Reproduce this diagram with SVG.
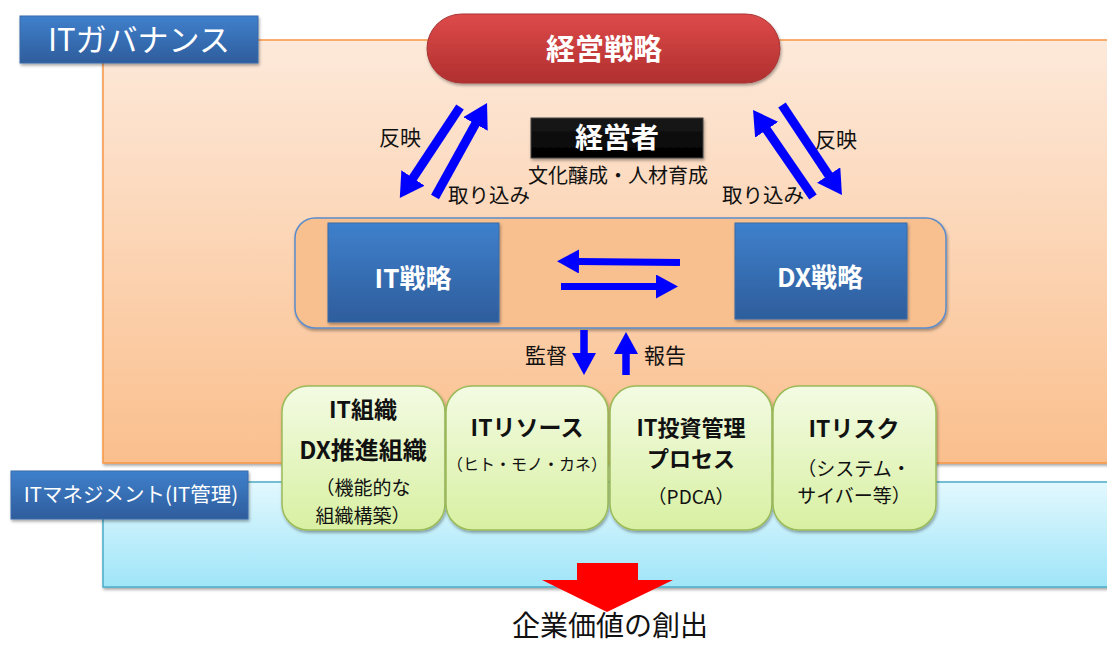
<svg xmlns="http://www.w3.org/2000/svg" width="1107" height="646" viewBox="0 0 1107 646">
  <style>
    text { font-family: "Noto Sans CJK JP", "Noto Sans", sans-serif; }
    .w { fill: #ffffff; }
    .k { fill: #111111; }
    .b { font-weight: bold; }
    .mid { text-anchor: middle; }
    .green { fill: url(#gGreen); stroke: #9bbb59; stroke-width: 1.5; }
    .blue { fill: url(#gBlue); stroke: #3b6aa8; stroke-width: 1; }
    .arr { stroke: #0000ff; fill: none; }
  </style>
  <defs>
    <linearGradient id="gOrange" x1="0" y1="0" x2="0" y2="1">
      <stop offset="0" stop-color="#fde9da"/>
      <stop offset="1" stop-color="#fabf8d"/>
    </linearGradient>
    <linearGradient id="gCyan" x1="0" y1="0" x2="0" y2="1">
      <stop offset="0" stop-color="#e2f8fe"/>
      <stop offset="1" stop-color="#9fe5f8"/>
    </linearGradient>
    <linearGradient id="gBlue" x1="0" y1="0" x2="0" y2="1">
      <stop offset="0" stop-color="#3f80cc"/>
      <stop offset="1" stop-color="#2e5d9c"/>
    </linearGradient>
    <linearGradient id="gRed" x1="0" y1="0" x2="0" y2="1">
      <stop offset="0" stop-color="#de4a4a"/>
      <stop offset="1" stop-color="#b02f2f"/>
    </linearGradient>
    <linearGradient id="gGreen" x1="0" y1="0" x2="0" y2="1">
      <stop offset="0" stop-color="#f3fbe3"/>
      <stop offset="1" stop-color="#d8f0a2"/>
    </linearGradient>
    <linearGradient id="gBlack" x1="0" y1="0" x2="0" y2="1">
      <stop offset="0" stop-color="#1a1a1a"/>
      <stop offset="1" stop-color="#000000"/>
    </linearGradient>
    <filter id="sh" x="-10%" y="-10%" width="120%" height="130%">
      <feDropShadow dx="1" dy="2" stdDeviation="1.5" flood-color="#000" flood-opacity="0.35"/>
    </filter>
    <marker id="hBig" markerUnits="userSpaceOnUse" viewBox="0 -14 24 28" markerWidth="24" markerHeight="28" refX="1" refY="0" orient="auto">
      <path d="M0,-14 L24,0 L0,14 z" fill="#0000ff"/>
    </marker>
    <marker id="hSmall" markerUnits="userSpaceOnUse" viewBox="0 -12 22 24" markerWidth="22" markerHeight="24" refX="1" refY="0" orient="auto">
      <path d="M0,-12 L22,0 L0,12 z" fill="#0000ff"/>
    </marker>
  </defs>

  <!-- panels -->
  <g id="governance-panel">
    <rect x="103" y="40" width="1015" height="423" fill="url(#gOrange)" stroke="#f79646" stroke-width="1.5" filter="url(#sh)"/>
  </g>
  <g id="management-panel">
    <rect x="103" y="482" width="1015" height="105" fill="url(#gCyan)" stroke="#4bacc6" stroke-width="1.5" filter="url(#sh)"/>
  </g>

  <g id="label-governance">
    <rect x="20" y="16" width="238" height="47" class="blue" filter="url(#sh)"/>
    <text x="139" y="51" class="w mid" font-size="31">ITガバナンス</text>
  </g>
  <g id="label-management">
    <rect x="11" y="471" width="237" height="48" class="blue" filter="url(#sh)"/>
    <text x="131" y="502" class="w mid" font-size="20.5">ITマネジメント(IT管理)</text>
  </g>

  <!-- top node -->
  <g id="node-keiei-senryaku">
    <rect x="427" y="14" width="353" height="69" rx="34.5" fill="url(#gRed)" stroke="#a83434" stroke-width="1" filter="url(#sh)"/>
    <text x="604" y="60" class="w b mid" font-size="29">経営戦略</text>
  </g>

  <g id="node-keieisha">
    <rect x="531" y="118" width="172" height="40" fill="url(#gBlack)" stroke="#444" stroke-width="1" filter="url(#sh)"/>
    <text x="617" y="148" class="w b mid" font-size="28">経営者</text>
    <text x="618" y="183" class="k mid" font-size="20">文化醸成・人材育成</text>
  </g>

  <!-- strategy container -->
  <g id="node-strategy">
    <rect x="295" y="218" width="651" height="110" rx="20" fill="#f9c08f" stroke="#5b8ccb" stroke-width="1.5" filter="url(#sh)"/>
  </g>
  <g id="node-it-senryaku">
    <rect x="328" y="223" width="171" height="99" class="blue" filter="url(#sh)"/>
    <text x="413" y="288" class="w b mid" font-size="26">IT戦略</text>
  </g>
  <g id="node-dx-senryaku">
    <rect x="735" y="223" width="172" height="96" class="blue" filter="url(#sh)"/>
    <text x="820" y="287" class="w b mid" font-size="26">DX戦略</text>
  </g>

  <!-- connectors -->
  <g id="connectors">
    <line class="arr" x1="460" y1="107" x2="412.5" y2="178.8" stroke-width="9" marker-end="url(#hBig)"/>
    <line class="arr" x1="435" y1="197" x2="475.9" y2="123.1" stroke-width="9" marker-end="url(#hBig)"/>
    <line class="arr" x1="813" y1="197" x2="766.1" y2="128.9" stroke-width="9" marker-end="url(#hBig)"/>
    <line class="arr" x1="782" y1="105" x2="829.2" y2="175.9" stroke-width="9" marker-end="url(#hBig)"/>
    <line class="arr" x1="680" y1="262.5" x2="578" y2="261.5" stroke-width="7" marker-end="url(#hSmall)"/>
    <line class="arr" x1="561" y1="286.5" x2="657" y2="286.5" stroke-width="7" marker-end="url(#hSmall)"/>
    <line class="arr" x1="584" y1="330" x2="584" y2="354" stroke-width="7.5" marker-end="url(#hSmall)"/>
    <line class="arr" x1="626" y1="375" x2="626" y2="353" stroke-width="7.5" marker-end="url(#hSmall)"/>
    <text x="400" y="145" class="k mid" font-size="21">反映</text>
    <text x="489" y="203" class="k mid" font-size="20.5">取り込み</text>
    <text x="836" y="147" class="k mid" font-size="21">反映</text>
    <text x="763" y="203" class="k mid" font-size="20.5">取り込み</text>
    <text x="546" y="363" class="k mid" font-size="21">監督</text>
    <text x="665" y="363" class="k mid" font-size="21">報告</text>
  </g>

  <!-- green nodes -->
  <g id="node-it-soshiki">
    <rect x="282" y="386" width="163" height="144" rx="26" class="green" filter="url(#sh)"/>
    <text x="363" y="418" class="k b mid" font-size="23">IT組織</text>
    <text x="363" y="459" class="k b mid" font-size="24">DX推進組織</text>
    <text x="363" y="495" class="k mid" font-size="19">（機能的な</text>
    <text x="363" y="523" class="k mid" font-size="19">組織構築）</text>
  </g>
  <g id="node-it-resource">
    <rect x="446" y="386" width="162" height="144" rx="26" class="green" filter="url(#sh)"/>
    <text x="527" y="436" class="k b mid" font-size="23">ITリソース</text>
    <text x="527" y="470" class="k mid" font-size="16">（ヒト・モノ・カネ）</text>
  </g>
  <g id="node-it-toshi">
    <rect x="610" y="386" width="162" height="144" rx="26" class="green" filter="url(#sh)"/>
    <text x="691" y="436" class="k b mid" font-size="22">IT投資管理</text>
    <text x="691" y="467" class="k b mid" font-size="22">プロセス</text>
    <text x="691" y="504" class="k mid" font-size="19">（PDCA）</text>
  </g>
  <g id="node-it-risk">
    <rect x="773" y="386" width="163" height="144" rx="26" class="green" filter="url(#sh)"/>
    <text x="854" y="437" class="k b mid" font-size="23">ITリスク</text>
    <text x="854" y="476" class="k mid" font-size="19">（システム・</text>
    <text x="854" y="503" class="k mid" font-size="19">サイバー等）</text>
  </g>

  <!-- output -->
  <g id="node-value">
    <polygon points="577,563 638,563 638,580 673,580 607,612 542,580 577,580" fill="#ff0000"/>
    <text x="610" y="636" class="k mid" font-size="28">企業価値の創出</text>
  </g>
</svg>
